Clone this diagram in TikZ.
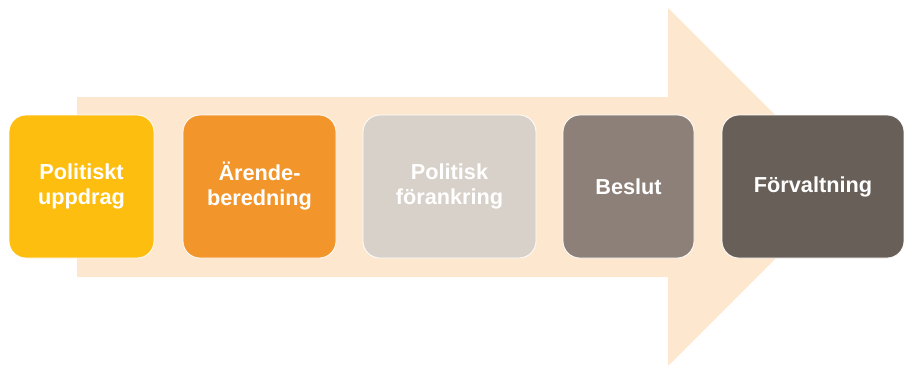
\documentclass[tikz,border=0pt]{standalone}
\usepackage{fontspec}
\setmainfont{Liberation Sans}
\definecolor{arrowc}{HTML}{FDE7CE}
\definecolor{c1}{HTML}{FDBE10}
\definecolor{c2}{HTML}{F2952B}
\definecolor{c3}{HTML}{D8D1C9}
\definecolor{c4}{HTML}{8C8078}
\definecolor{c5}{HTML}{685F58}
\begin{document}
\begin{tikzpicture}[x=1pt,y=-1pt,
  stagebox/.style={draw=white, line width=0.8pt, rounded corners=17pt, inner sep=0pt,
    text=white, font=\bfseries\fontsize{21.7}{25}\selectfont, align=center}]
\useasboundingbox (0,0) rectangle (904,364);
\fill[arrowc] (77,97) -- (668,97) -- (668,8) -- (847,187) -- (668,366) -- (668,277) -- (77,277) -- cycle;
\node[stagebox, fill=c1, minimum width=145pt, minimum height=143pt] (s1) at (81.5,186.5) {Politiskt\\uppdrag};
\node[stagebox, fill=c2, minimum width=153pt, minimum height=143pt] (s2) at (259.5,186.5) {Ärende-\\beredning};
\node[stagebox, fill=c3, minimum width=173pt, minimum height=143pt] (s3) at (449.5,186.5) {Politisk\\förankring};
\node[stagebox, fill=c4, minimum width=131pt, minimum height=143pt] (s4) at (628.5,186.5) {Beslut};
\node[stagebox, fill=c5, minimum width=182pt, minimum height=143pt] (s5) at (813,186.5) {Förvaltning};
\end{tikzpicture}
\end{document}
